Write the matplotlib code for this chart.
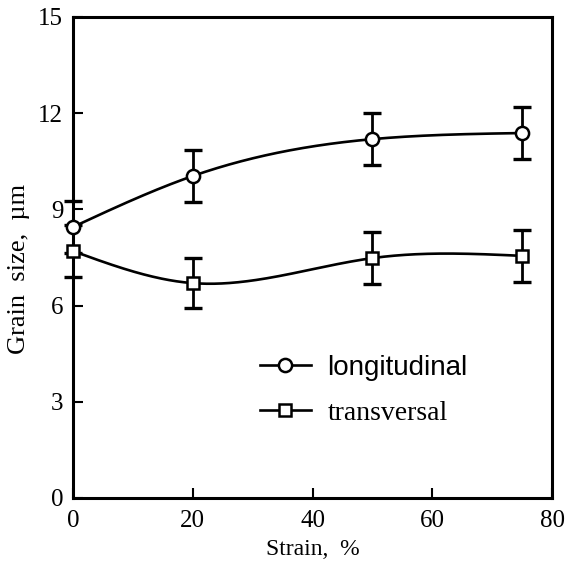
import numpy as np
import matplotlib
matplotlib.use("Agg")
import matplotlib.pyplot as plt
from matplotlib.lines import Line2D

plt.rcParams['font.family'] = ['Liberation Serif', 'DejaVu Serif']

strain = [0, 20, 50, 75]
longitudinal = [8.45, 10.04, 11.19, 11.38]
longitudinal_err = [0.8, 0.8, 0.8, 0.82]
transversal = [7.70, 6.70, 7.48, 7.55]
transversal_err = [0.8, 0.78, 0.8, 0.8]
xticks = [0, 20, 40, 60, 80]
yticks = [0, 3, 6, 9, 12, 15]


def natural_spline(x, y, xs):
    x = np.asarray(x, float)
    y = np.asarray(y, float)
    n = len(x)
    h = np.diff(x)
    A = np.zeros((n, n))
    b = np.zeros(n)
    A[0, 0] = A[-1, -1] = 1
    for i in range(1, n - 1):
        A[i, i - 1] = h[i - 1]
        A[i, i] = 2 * (h[i - 1] + h[i])
        A[i, i + 1] = h[i]
        b[i] = 6 * ((y[i + 1] - y[i]) / h[i] - (y[i] - y[i - 1]) / h[i - 1])
    M = np.linalg.solve(A, b)
    out = np.empty_like(xs)
    for k, xv in enumerate(xs):
        i = min(np.searchsorted(x, xv, side='right') - 1, n - 2)
        i = max(i, 0)
        t1 = x[i + 1] - xv
        t0 = xv - x[i]
        out[k] = (M[i] * t1 ** 3 + M[i + 1] * t0 ** 3) / (6 * h[i]) \
            + (y[i] / h[i] - M[i] * h[i] / 6) * t1 \
            + (y[i + 1] / h[i] - M[i + 1] * h[i] / 6) * t0
    return out


fig = plt.figure(figsize=(5.67, 5.65), dpi=100)
ax = fig.add_axes([0.1287, 0.1186, 0.845, 0.8514])

lw = 1.9
for y, e, m, ms in [(longitudinal, longitudinal_err, 'o', 9.5), (transversal, transversal_err, 's', 9)]:
    xs = np.linspace(strain[0], strain[-1], 300)
    ax.plot(xs, natural_spline(strain, y, xs), color='black', lw=lw, zorder=2)
    ax.errorbar(strain, y, yerr=e, fmt='none', ecolor='black', elinewidth=2.0,
                capsize=6.5, capthick=2.4, zorder=3, clip_on=False)
    ax.plot(strain, y, linestyle='none', marker=m, ms=ms, mfc='white', mec='black',
            mew=1.8, zorder=4, clip_on=False)

ax.set_xlim(0, 80)
ax.set_ylim(0, 15)
ax.set_xticks(xticks)
ax.set_yticks(yticks)
ax.tick_params(direction='in', length=7, width=1.5, labelsize=18, pad=7,
               top=False, right=False)
ax.tick_params(axis='x', pad=8.5)
for s in ax.spines.values():
    s.set_linewidth(2.2)

ax.set_xlabel('Strain,  %', fontsize=17, labelpad=5)
ax.set_ylabel('Grain  size,  µm', fontsize=19)
ax.yaxis.set_label_coords(-0.09, 0.477)

handles = [
    Line2D([], [], color='black', lw=lw, marker='o', ms=9.5, mfc='white', mec='black', mew=1.8),
    Line2D([], [], color='black', lw=lw, marker='s', ms=9, mfc='white', mec='black', mew=1.8),
]
leg = ax.legend(handles, ['longitudinal', 'transversal'], loc='upper left',
                bbox_to_anchor=(0.39, 0.298), frameon=False, fontsize=20,
                handlelength=1.83, handletextpad=0.6, labelspacing=0.72,
                borderpad=0, borderaxespad=0)
leg.get_texts()[0].set_family(['Liberation Sans', 'DejaVu Sans'])

fig.savefig('out.png', dpi=100)
